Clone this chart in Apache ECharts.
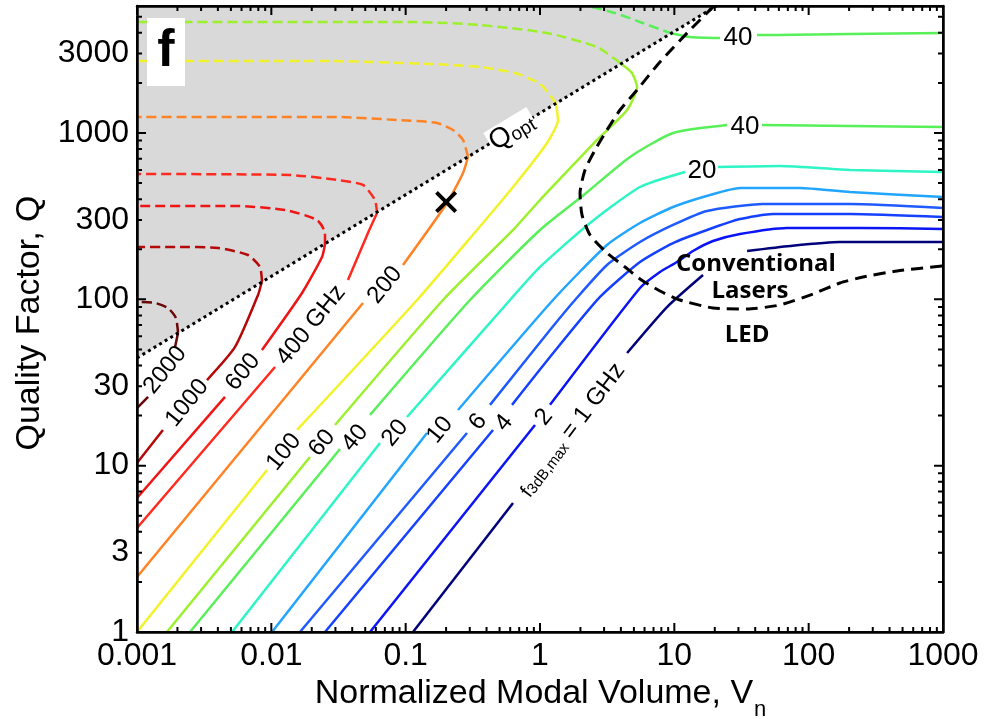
<!DOCTYPE html>
<html><head><meta charset="utf-8">
<script src="https://cdn.jsdelivr.net/npm/echarts@6/dist/echarts.min.js"></script>
<style>html,body{margin:0;padding:0;background:#fff}#c{width:985px;height:719px}</style>
</head><body><div id="c"></div>
<script>
// ---------------- axes / ticks ----------------
const X_MIN = 0.001, X_MAX = 1000, Y_MIN = 1, Y_MAX = 5800;
const xTicks = [0.001, 0.01, 0.1, 1, 10, 100, 1000];
const yTicks = [1, 3, 10, 30, 100, 300, 1000, 3000];
const yMajor = [1, 10, 100, 1000];

// ---------------- contour levels (GHz) and colours ----------------
const levels = [1, 2, 4, 6, 10, 20, 40, 60, 100, 200, 400, 600, 1000, 2000];
const levelColors = ['#00007a', '#0a14f5', '#1540ff', '#1e5aff', '#22a5ff', '#2ef5c5', '#58f058',
  '#9cf02c', '#f2f22a', '#ff8224', '#ff2a1f', '#f01515', '#b50808', '#6a0808'];

// ---------------- contour segments [V, Q] (solid = below Qopt, d = dashed above Qopt) ----------------
const c1_s1 = [[0.1134, 1], [0.630, 5.97]];
const c1_s2 = [[4.45, 47.6], [8.82, 89.9], [16.35, 140.1]];
const c1_s3 = [[34.8, 195.3], [72.6, 209.3], [171, 221], [1000, 221]];

const c2_s1 = [[0.0543, 1], [0.918, 17.56]];
const c2_s2 = [[1.187, 23.2], [5.55, 117], [7.82, 146], [10.47, 167.7], [13.77, 195.3], [19.4, 224.2], [30.8, 247], [69, 268.5], [241, 268.5], [1000, 264.8]];

const c4_s1 = [[0.0251, 1], [0.447, 16.39]];
const c4_s2 = [[0.619, 23.2], [1.187, 45], [2.797, 103.3], [5.55, 167.7], [9.78, 218], [17.51, 261.2], [30.8, 304], [54.3, 326], [203, 326], [1000, 312.6]];

const c6_s1 = [[0.01634, 1], [0.286, 15.72]];
const c6_s2 = [[0.4245, 23.2], [1.187, 65.4], [1.822, 99.1], [3.153, 160.9], [5.55, 221], [9.78, 279.9], [17.51, 339.8], [45.7, 374.3], [203, 374.3], [1000, 354]];

const c10_s1 = [[0.01012, 1], [0.1442, 15.72]];
const c10_s2 = [[0.2453, 21.61], [1.25, 99.1], [3.153, 212.2], [5.55, 287.7], [9.78, 359], [18.44, 424], [30.8, 467], [86.2, 467], [203, 441.9], [1000, 412.5]];

const c20_s1 = [[0.0051, 1], [0.0644, 13.69]];
const c20_s2 = [[0.1023, 19.62], [0.598, 99.1], [1.0, 156.5], [2.357, 287.7], [5.55, 473.6], [12.01, 583]];
const c20_s3 = [[21.14, 624.7], [61.2, 633.5], [203, 599], [1000, 583]];

const c40_s1 = [[0.00248, 1], [0.03245, 12.6]];
const c40_s2 = [[0.0543, 20.2], [0.3013, 99.1], [1.0, 261.2], [2.163, 429.9], [4.677, 717.5], [9.78, 1000], [24.67, 1117]];
const c40_s3 = [[44.96, 1117], [203, 1102], [1000, 1087]];
const c40_d = [[2.439, 5723], [3.617, 5266], [5.55, 4650], [9.29, 3994]];
const c40_s4 = [[9.29, 3994], [13.08, 3777], [21.88, 3726]];
const c40_s5 = [[41.26, 3884], [58.1, 3884], [203, 3938], [1000, 3994]];

const c60_s1 = [[0.00167, 1], [0.0194, 11.28]];
const c60_s2 = [[0.0298, 17.56], [0.1897, 99.1], [0.630, 261.2], [1.0, 395.6], [2.657, 907.8], [4.45, 1375], [5.275, 1891], [4.842, 2295], [3.941, 2636]];
const c60_d = [[3.941, 2636], [2.657, 3289], [1.128, 3994], [0.3576, 4461], [0.1134, 4650], [0.001, 4650]];

const c100_s1 = [[0.001, 1], [0.00929, 9.42]];
const c100_s2 = [[0.01553, 16.39], [0.1215, 99.1], [0.3396, 261.2], [0.630, 473.6], [1.128, 871], [1.362, 1197], [1.316, 1494]];
const c100_d = [[1.316, 1494], [1.187, 1692], [1.0, 1971], [0.6516, 2295], [0.3576, 2495], [0.1518, 2600], [0.02734, 2710], [0.001, 2710]];

const c200_s1 = [[0.001, 2.141], [0.0481, 95.1]];
const c200_s2 = [[0.0955, 160.9], [0.2032, 379.6], [0.2673, 575], [0.2911, 717.5]];
const c200_d = [[0.2911, 717.5], [0.2673, 907.8], [0.2251, 1043], [0.1712, 1149], [0.0862, 1197], [0.0308, 1248], [0.001, 1248]];

const c400_s1 = [[0.001, 4.22], [0.01065, 39.2]];
const c400_s2 = [[0.0372, 130.7], [0.0524, 250.5], [0.0612, 330.5]];
const c400_d = [[0.0612, 330.5], [0.0591, 395.6], [0.0481, 487], [0.0308, 521.9], [0.01377, 559], [0.001, 567]];

const c600_s1 = [[0.001, 6.39], [0.00452, 25.9]];
const c600_s2 = [[0.00852, 49.6], [0.01692, 109.2], [0.02384, 179.7], [0.0251, 215.2]];
const c600_d = [[0.0251, 215.2], [0.0251, 250.5], [0.02188, 299.9], [0.01264, 344.5], [0.00537, 364], [0.001, 364]];

const c1000_s1 = [[0.001, 10.38], [0.00156, 16.39]];
const c1000_s2 = [[0.00332, 32.7], [0.00537, 51.7], [0.00796, 106.2], [0.00852, 128.9]];
const c1000_d = [[0.00852, 128.9], [0.00823, 156.5], [0.0067, 184.7], [0.00401, 203.6], [0.00192, 206.4], [0.001, 206.4]];

const c2000_s1 = [[0.001, 22.2], [0.00121, 25.9]];
const c2000_s2 = [[0.00192, 51.7], [0.00202, 62.8]];
const c2000_d = [[0.00202, 62.8], [0.00195, 77.2], [0.0017, 88.7], [0.00136, 95.1], [0.001, 96.4]];

// optimum-Q line and the conventional-laser / LED boundary
const qOpt = [[0.001, 44.4], [20.5, 5800]];
const laserBoundary = [[19.74, 5800], [13.08, 4162], [7.82, 2673], [5.275, 1814], [3.941, 1375], [3.153, 1043],
  [2.567, 790.6], [2.163, 599], [1.986, 435.9], [2.054, 321.5], [2.357, 243.7], [3.153, 189.9], [4.295, 156.5],
  [5.55, 132.6], [7.82, 112.2], [11.02, 99.1], [19.4, 88.7], [34.8, 87.5], [61.2, 92.5], [107.8, 107.7],
  [171, 125.4], [254, 136.2], [454.6, 148.1], [1000, 158.6]];

// optimum design point
const optPoint = [[0.2, 385]];

// contour labels [V, Q, text]
const diagLabels = [
  [0.00162, 37.6, '2000'], [0.00236, 23.8, '1000'], [0.00615, 36.6, '600'], [0.01973, 70.1, '400 GHz'],
  [0.0702, 122, '200'], [0.01243, 12.08, '100'], [0.02384, 13.69, '60'], [0.042, 14.67, '40'],
  [0.0833, 15.72, '20'], [0.180, 16.39, '10'], [0.3455, 18.3, '6'], [0.540, 18.05, '4'], [1.071, 19.6, '2']];
const flatLabels = [[29.8, 3726, '40'], [33.6, 1087, '40'], [16.07, 591, '20']];
const oneGHzLabel = [1.731, 16.39];
const qOptLabel = [0.619, 1014];
const regionLabels = [[40.5, 163, 'Conventional'], [36.6, 112, 'Lasers'], [34.8, 61.0, 'LED']];

// ---------------- build ----------------
const FONT = '"Liberation Sans", Arial, Helvetica, sans-serif';
const BOLD_FONT = '"Open Sans", "Liberation Sans", sans-serif';
const colorOf = {};
levels.forEach((l, i) => colorOf[l] = levelColors[i]);

const segs = [
  [1, c1_s1, 0], [1, c1_s2, 0], [1, c1_s3, 0],
  [2, c2_s1, 0], [2, c2_s2, 0],
  [4, c4_s1, 0], [4, c4_s2, 0],
  [6, c6_s1, 0], [6, c6_s2, 0],
  [10, c10_s1, 0], [10, c10_s2, 0],
  [20, c20_s1, 0], [20, c20_s2, 0], [20, c20_s3, 0],
  [40, c40_s1, 0], [40, c40_s2, 0], [40, c40_s3, 0], [40, c40_d, 1], [40, c40_s4, 0], [40, c40_s5, 0],
  [60, c60_s1, 0], [60, c60_s2, 0], [60, c60_d, 1],
  [100, c100_s1, 0], [100, c100_s2, 0], [100, c100_d, 1],
  [200, c200_s1, 0], [200, c200_s2, 0], [200, c200_d, 1],
  [400, c400_s1, 0], [400, c400_s2, 0], [400, c400_d, 1],
  [600, c600_s1, 0], [600, c600_s2, 0], [600, c600_d, 1],
  [1000, c1000_s1, 0], [1000, c1000_s2, 0], [1000, c1000_d, 1],
  [2000, c2000_s1, 0], [2000, c2000_s2, 0], [2000, c2000_d, 1]
];

const xMinor = [];
for (let e = -3; e < 3; e++) for (let m = 2; m <= 9; m++) xMinor.push(+(m * Math.pow(10, e)).toPrecision(3));
const yMinor = [];
for (let e = 0; e < 4; e++) for (let m = 2; m <= 9; m++) { const v = m * Math.pow(10, e); if (v < Y_MAX) yMinor.push(v); }

function fmt(v) { return String(+(+v).toPrecision(3)); }

function mkAxis(kind, position, showLabels) {
  const isX = kind === 'x';
  return {
    type: 'log', logBase: 10, position: position, z: 10,
    min: isX ? X_MIN : Y_MIN, max: isX ? X_MAX : Y_MAX,
    axisLine: { show: true, onZero: false, lineStyle: { color: '#000', width: 2.5 } },
    axisTick: { show: false },
    axisLabel: {
      show: showLabels, customValues: isX ? xTicks : yTicks, margin: 8,
      fontSize: 32, color: '#000', fontFamily: FONT, formatter: fmt
    },
    splitLine: { show: false }, minorTick: { show: false }, minorSplitLine: { show: false }
  };
}

const series = [];
series.push({
  type: 'line', data: qOpt, symbol: 'none', silent: true, z: 1,
  lineStyle: { width: 0, opacity: 0 },
  areaStyle: { color: '#d9d9d9', opacity: 1, origin: 'end' }
});
segs.forEach(([lvl, pts, dashed]) => {
  series.push({
    type: 'line', data: pts, symbol: 'none', silent: true, z: 3,
    smooth: pts.length > 2 ? 0.2 : false,
    lineStyle: { color: colorOf[lvl], width: 2.5, type: dashed ? [10, 5] : 'solid', cap: 'butt' }
  });
});
series.push({
  type: 'line', data: laserBoundary, symbol: 'none', silent: true, z: 4, smooth: 0.2,
  lineStyle: { color: '#000', width: 3, type: [12, 7], cap: 'butt' }
});
series.push({
  type: 'line', data: qOpt, symbol: 'none', silent: true, z: 5,
  lineStyle: { color: '#000', width: 3, type: [3, 3.5], cap: 'butt' }
});
series.push({
  type: 'scatter', data: optPoint, silent: true, z: 6, symbolSize: 22,
  symbol: 'path://M0 2.5L2.5 0L10 7.5L17.5 0L20 2.5L12.5 10L20 17.5L17.5 20L10 12.5L2.5 20L0 17.5L7.5 10Z',
  itemStyle: { color: '#000', opacity: 1 }
});

const chart = echarts.init(document.getElementById('c'), null, { renderer: 'canvas' });
chart.setOption({
  animation: false,
  backgroundColor: '#fff',
  grid: { left: 137, right: 42, top: 6, bottom: 87, outerBoundsMode: 'none', containLabel: false },
  xAxis: [mkAxis('x', 'bottom', true), mkAxis('x', 'top', false)],
  yAxis: [mkAxis('y', 'left', true), mkAxis('y', 'right', false)],
  series: series
});

// ---------- overlay: ticks and text placed through the chart's own scales ----------
const P = d => chart.convertToPixel({ xAxisIndex: 0, yAxisIndex: 0 }, d);
const gfx = [];
// tick marks: one comb-shaped polyline per side, running along the axis line
function comb(points) {
  gfx.push({ type: 'polyline', silent: true, z: 50, shape: { points: points }, style: { stroke: '#000', fill: null, lineWidth: 2 } });
}
const ticksX = xTicks.map(v => [v, 9]).concat(xMinor.map(v => [v, 5])).sort((a, b) => a[0] - b[0]);
const ticksY = yMajor.map(v => [v, 9]).concat(yMinor.map(v => [v, 5])).sort((a, b) => a[0] - b[0]);
const combBottom = [], combTop = [], combLeft = [], combRight = [];
ticksX.forEach(([v, len]) => {
  const b = P([v, Y_MIN]), t = P([v, Y_MAX]);
  combBottom.push([b[0], b[1]], [b[0], b[1] - len], [b[0], b[1]]);
  combTop.push([t[0], t[1]], [t[0], t[1] + len], [t[0], t[1]]);
});
ticksY.forEach(([v, len]) => {
  const l = P([X_MIN, v]), r = P([X_MAX, v]);
  combLeft.push([l[0], l[1]], [l[0] + len, l[1]], [l[0], l[1]]);
  combRight.push([r[0], r[1]], [r[0] - len, r[1]], [r[0], r[1]]);
});
comb(combBottom); comb(combTop); comb(combLeft); comb(combRight);

function txt(d, text, deg, extra) {
  const p = P(d);
  gfx.push({
    type: 'text', x: p[0], y: p[1], rotation: deg * Math.PI / 180, silent: true, z: 60,
    style: Object.assign({ text: text, fill: '#000', fontFamily: FONT, fontSize: 24, align: 'center', verticalAlign: 'middle' }, extra || {})
  });
}
diagLabels.forEach(([v, q, t]) => txt([v, q], t, 51));
flatLabels.forEach(([v, q, t]) => txt([v, q], t, 0, { fontSize: 26 }));
txt(oneGHzLabel, '{f|f}{s|3dB,max}{n| = 1 GHz}', 53, {
  rich: {
    f: { fontSize: 20, fontFamily: FONT, fill: '#000', verticalAlign: 'bottom' },
    s: { fontSize: 15, fontFamily: FONT, fill: '#000', verticalAlign: 'bottom' },
    n: { fontSize: 24, fontFamily: FONT, fill: '#000' }
  }
});
txt(qOptLabel, '{q|Q}{o|opt}', 31, {
  backgroundColor: '#fff', padding: [0, 1, 0, 1],
  rich: {
    q: { fontSize: 28, fontFamily: FONT, fill: '#000' },
    o: { fontSize: 19, fontFamily: FONT, fill: '#000', verticalAlign: 'bottom' }
  }
});
regionLabels.forEach(([v, q, t]) => txt([v, q], t, 0, { fontFamily: BOLD_FONT, fontWeight: 'bold', fontSize: 24 }));

// panel letter and axis titles
gfx.push({ type: 'rect', shape: { x: 147, y: 18, width: 38, height: 68 }, style: { fill: '#fff' }, z: 100, silent: true });
gfx.push({ type: 'text', x: 166, y: 52, z: 101, silent: true, style: { text: 'f', fontSize: 52, fontWeight: 'bold', fontFamily: FONT, fill: '#000', align: 'center', verticalAlign: 'middle' } });
const measureCtx = document.createElement('canvas').getContext('2d');
measureCtx.font = '34px "Liberation Sans"';
const wMain = measureCtx.measureText('Normalized Modal Volume, V').width;
measureCtx.font = '22px "Liberation Sans"';
const wSub = measureCtx.measureText('n').width;
const xt0 = 540 - (wMain + wSub) / 2;
gfx.push({ type: 'text', x: xt0, y: 694, z: 101, silent: true, style: { text: 'Normalized Modal Volume, V', fontSize: 34, fontFamily: FONT, fill: '#000', align: 'left', verticalAlign: 'middle' } });
gfx.push({ type: 'text', x: xt0 + wMain + 1, y: 710, z: 101, silent: true, style: { text: 'n', fontSize: 22, fontFamily: FONT, fill: '#000', align: 'left', verticalAlign: 'middle' } });
gfx.push({ type: 'text', x: 30, y: 323, rotation: Math.PI / 2, z: 101, silent: true, style: { text: 'Quality Factor, Q', fontSize: 34, fontFamily: FONT, fill: '#000', align: 'center', verticalAlign: 'middle' } });

chart.setOption({ graphic: gfx });
</script>
</body></html>
